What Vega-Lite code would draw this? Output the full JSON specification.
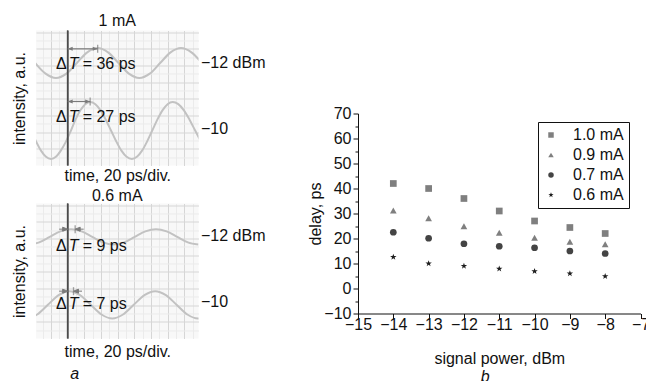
{
  "$schema": "https://vega.github.io/schema/vega-lite/v6.json",
  "padding": {"left": 11, "top": 12.5, "right": 0, "bottom": 0},
  "background": "white",
  "config": {
    "font": "Liberation Sans",
    "view": {"stroke": null},
    "axis": {"labelFontSize": 16, "titleFontSize": 16, "titleFontWeight": "normal", "labelColor": "#111", "titleColor": "#111", "labelFlush": false, "labelOverlap": false},
    "title": {"fontSize": 16, "fontWeight": "normal", "color": "#111"},
    "text": {"font": "Liberation Sans"}
  },
  "datasets": {
    "traceA": [
      {"power": "-12", "t": -39, "v": 6.15}, {"power": "-12", "t": -26.5, "v": 5.51}, {"power": "-12", "t": -14, "v": 5.25}, {"power": "-12", "t": -1.5, "v": 5.51}, {"power": "-12", "t": 11, "v": 6.15}, {"power": "-12", "t": 23.5, "v": 6.79}, {"power": "-12", "t": 36, "v": 7.05}, {"power": "-12", "t": 48.5, "v": 6.79}, {"power": "-12", "t": 61, "v": 6.15}, {"power": "-12", "t": 73.5, "v": 5.51}, {"power": "-12", "t": 86, "v": 5.25}, {"power": "-12", "t": 98.5, "v": 5.51}, {"power": "-12", "t": 111, "v": 6.15}, {"power": "-12", "t": 123.5, "v": 6.79}, {"power": "-12", "t": 136, "v": 7.05}, {"power": "-12", "t": 148.5, "v": 6.79}, {"power": "-12", "t": 161, "v": 6.15},
      {"power": "-10", "t": -44, "v": 2.1}, {"power": "-10", "t": -38, "v": 1.45}, {"power": "-10", "t": -32, "v": 0.89}, {"power": "-10", "t": -26, "v": 0.52}, {"power": "-10", "t": -20, "v": 0.39}, {"power": "-10", "t": -14.1, "v": 0.52}, {"power": "-10", "t": -8.25, "v": 0.89}, {"power": "-10", "t": -2.4, "v": 1.4}, {"power": "-10", "t": 3.5, "v": 2.05}, {"power": "-10", "t": 9.4, "v": 2.75}, {"power": "-10", "t": 15.25, "v": 3.31}, {"power": "-10", "t": 21.1, "v": 3.68}, {"power": "-10", "t": 27, "v": 3.81}, {"power": "-10", "t": 33.25, "v": 3.68}, {"power": "-10", "t": 39.5, "v": 3.31}, {"power": "-10", "t": 45.75, "v": 2.75}, {"power": "-10", "t": 52, "v": 2.1}, {"power": "-10", "t": 58.25, "v": 1.45}, {"power": "-10", "t": 64.5, "v": 0.89}, {"power": "-10", "t": 70.75, "v": 0.52}, {"power": "-10", "t": 77, "v": 0.39}, {"power": "-10", "t": 83.1, "v": 0.52}, {"power": "-10", "t": 89.25, "v": 0.89}, {"power": "-10", "t": 95.4, "v": 1.45}, {"power": "-10", "t": 101.5, "v": 2.1}, {"power": "-10", "t": 107.6, "v": 2.75}, {"power": "-10", "t": 113.75, "v": 3.31}, {"power": "-10", "t": 119.9, "v": 3.68}, {"power": "-10", "t": 126, "v": 3.81}, {"power": "-10", "t": 132.75, "v": 3.68}, {"power": "-10", "t": 139.5, "v": 3.31}, {"power": "-10", "t": 146.25, "v": 2.75}, {"power": "-10", "t": 153, "v": 2.1}, {"power": "-10", "t": 159.75, "v": 1.45}
    ],
    "traceB": [
      {"power": "-12", "t": -47, "v": 5.64}, {"power": "-12", "t": -34.25, "v": 5.77}, {"power": "-12", "t": -21.5, "v": 6.1}, {"power": "-12", "t": -8.75, "v": 6.43}, {"power": "-12", "t": 4, "v": 6.56}, {"power": "-12", "t": 16.75, "v": 6.43}, {"power": "-12", "t": 29.5, "v": 6.1}, {"power": "-12", "t": 42.25, "v": 5.77}, {"power": "-12", "t": 55, "v": 5.64}, {"power": "-12", "t": 67.75, "v": 5.77}, {"power": "-12", "t": 80.5, "v": 6.1}, {"power": "-12", "t": 93.25, "v": 6.43}, {"power": "-12", "t": 106, "v": 6.56}, {"power": "-12", "t": 118.75, "v": 6.43}, {"power": "-12", "t": 131.5, "v": 6.1}, {"power": "-12", "t": 144.25, "v": 5.77}, {"power": "-12", "t": 157, "v": 5.64},
      {"power": "-10", "t": -49.5, "v": 1.2}, {"power": "-10", "t": -36.6, "v": 1.44}, {"power": "-10", "t": -23.75, "v": 2.02}, {"power": "-10", "t": -10.9, "v": 2.6}, {"power": "-10", "t": 2, "v": 2.84}, {"power": "-10", "t": 14.9, "v": 2.6}, {"power": "-10", "t": 27.75, "v": 2.02}, {"power": "-10", "t": 40.6, "v": 1.44}, {"power": "-10", "t": 53.5, "v": 1.2}, {"power": "-10", "t": 66.4, "v": 1.44}, {"power": "-10", "t": 79.25, "v": 2.02}, {"power": "-10", "t": 92.1, "v": 2.6}, {"power": "-10", "t": 105, "v": 2.84}, {"power": "-10", "t": 117.9, "v": 2.6}, {"power": "-10", "t": 130.75, "v": 2.02}, {"power": "-10", "t": 143.6, "v": 1.44}, {"power": "-10", "t": 156.5, "v": 1.2}, {"power": "-10", "t": 169.4, "v": 1.44}
    ],
    "annA": [
      {"power": "-12", "ay": 7.0, "dt": 36, "ly": 6.12, "rest": "= 36 ps"},
      {"power": "-10", "ay": 3.84, "dt": 27, "ly": 2.9, "rest": "= 27 ps"}
    ],
    "annB": [
      {"power": "-12", "ay": 6.56, "dt": 9, "ly": 5.54, "rest": "= 9 ps"},
      {"power": "-10", "ay": 2.84, "dt": 7, "ly": 2.1, "rest": "= 7 ps"}
    ],
    "delay": [
      {"power": -14, "delay": 42, "current": "1.0 mA"}, {"power": -13, "delay": 40, "current": "1.0 mA"}, {"power": -12, "delay": 36, "current": "1.0 mA"}, {"power": -11, "delay": 31, "current": "1.0 mA"}, {"power": -10, "delay": 27, "current": "1.0 mA"}, {"power": -9, "delay": 24.4, "current": "1.0 mA"}, {"power": -8, "delay": 22, "current": "1.0 mA"},
      {"power": -14, "delay": 31.2, "current": "0.9 mA"}, {"power": -13, "delay": 28.1, "current": "0.9 mA"}, {"power": -12, "delay": 24.9, "current": "0.9 mA"}, {"power": -11, "delay": 22.3, "current": "0.9 mA"}, {"power": -10, "delay": 20.3, "current": "0.9 mA"}, {"power": -9, "delay": 18.7, "current": "0.9 mA"}, {"power": -8, "delay": 17.7, "current": "0.9 mA"},
      {"power": -14, "delay": 22.5, "current": "0.7 mA"}, {"power": -13, "delay": 20.1, "current": "0.7 mA"}, {"power": -12, "delay": 17.9, "current": "0.7 mA"}, {"power": -11, "delay": 16.9, "current": "0.7 mA"}, {"power": -10, "delay": 16.3, "current": "0.7 mA"}, {"power": -9, "delay": 15, "current": "0.7 mA"}, {"power": -8, "delay": 14, "current": "0.7 mA"},
      {"power": -14, "delay": 12.6, "current": "0.6 mA"}, {"power": -13, "delay": 10, "current": "0.6 mA"}, {"power": -12, "delay": 9, "current": "0.6 mA"}, {"power": -11, "delay": 7.9, "current": "0.6 mA"}, {"power": -10, "delay": 6.9, "current": "0.6 mA"}, {"power": -9, "delay": 6, "current": "0.6 mA"}, {"power": -8, "delay": 4.9, "current": "0.6 mA"}
    ]
  },
  "resolve": {"scale": {"color": "independent", "shape": "independent"}},
  "spacing": 42,
  "hconcat": [
    {
      "spacing": 4,
      "vconcat": [
        {
          "width": 162.5, "height": 135,
          "view": {"fill": "#f8f8f8"},
          "title": {"text": "1 mA", "offset": 0.5},
          "resolve": {"axis": {"x": "independent", "y": "independent"}},
          "layer": [
            {
              "data": {"name": "traceA"},
              "mark": {"type": "line", "interpolate": "monotone", "clip": true, "color": "#c2c2c2", "strokeWidth": 2},
              "encoding": {
                "x": {"field": "t", "type": "quantitative", "scale": {"domain": [-38, 157], "nice": false, "zero": false},
                  "axis": {"title": "time, 20 ps/div.", "titlePadding": 2, "labels": false, "ticks": false, "domain": false, "grid": true,
                    "values": [-30, -20, -10, 0, 10, 20, 30, 40, 50, 60, 70, 80, 90, 100, 110, 120, 130, 140, 150],
                    "gridColor": {"condition": {"test": "datum.value % 20 !== 0", "value": "#ebebeb"}, "value": "#d6d6d6"}, "gridWidth": 1}},
                "y": {"field": "v", "type": "quantitative", "scale": {"domain": [0, 8.1], "nice": false, "zero": false},
                  "axis": {"title": "intensity, a.u.", "titlePadding": 9, "labels": false, "ticks": false, "domain": false, "grid": true,
                    "values": [0.5, 1, 1.5, 2, 2.5, 3, 3.5, 4, 4.5, 5, 5.5, 6, 6.5, 7, 7.5, 8],
                    "gridColor": {"condition": {"test": "datum.value % 1 !== 0", "value": "#ebebeb"}, "value": "#d6d6d6"}, "gridWidth": 1}},
                "detail": {"field": "power", "type": "nominal"}
              }
            },
            {"data": {"name": "annA"}, "mark": {"type": "rule", "color": "#4a4a4a", "strokeWidth": 1.5},
             "encoding": {"x": {"datum": 0, "type": "quantitative", "axis": null}}},
            {"data": {"name": "annA"}, "mark": {"type": "rule", "color": "#7a7a7a", "strokeWidth": 1.2},
             "encoding": {"x": {"field": "dt", "type": "quantitative", "axis": null}, "x2": {"datum": 0}, "y": {"field": "ay", "type": "quantitative", "axis": null}}},
            {"data": {"name": "annA"}, "mark": {"type": "point", "shape": "M0,0L2,-0.8L2,0.8Z", "filled": true, "size": 25, "color": "#7a7a7a", "opacity": 1},
             "encoding": {"x": {"datum": 0, "type": "quantitative", "axis": null}, "y": {"field": "ay", "type": "quantitative", "axis": null}}},
            {"data": {"name": "annA"}, "mark": {"type": "point", "shape": "M0,0L-2,-0.8L-2,0.8Z", "filled": true, "size": 25, "color": "#7a7a7a", "opacity": 1},
             "encoding": {"x": {"field": "dt", "type": "quantitative", "axis": null}, "y": {"field": "ay", "type": "quantitative", "axis": null}}},
            {"data": {"name": "annA"}, "mark": {"type": "tick", "orient": "vertical", "size": 8, "thickness": 1.3, "color": "#7a7a7a"},
             "encoding": {"x": {"field": "dt", "type": "quantitative", "axis": null}, "y": {"field": "ay", "type": "quantitative", "axis": null}}},
            {"data": {"name": "annA"}, "mark": {"type": "text", "text": "Δ", "align": "right", "baseline": "middle", "dx": -1, "fontSize": 16, "color": "#111"},
             "encoding": {"x": {"datum": 0, "type": "quantitative", "axis": null}, "y": {"field": "ly", "type": "quantitative", "axis": null}}},
            {"data": {"name": "annA"}, "mark": {"type": "text", "text": "T", "align": "left", "baseline": "middle", "dx": 1, "fontSize": 16, "fontStyle": "italic", "color": "#111"},
             "encoding": {"x": {"datum": 0, "type": "quantitative", "axis": null}, "y": {"field": "ly", "type": "quantitative", "axis": null}}},
            {"data": {"name": "annA"}, "mark": {"type": "text", "align": "left", "baseline": "middle", "dx": 15, "fontSize": 16, "color": "#111"},
             "encoding": {"x": {"datum": 0, "type": "quantitative", "axis": null}, "text": {"field": "rest", "type": "nominal"},
               "y": {"field": "ly", "type": "quantitative", "axis": {"orient": "right", "values": [6.16, 2.2], "labelExpr": "datum.value > 4 ? '−12 dBm' : '−10'", "ticks": false, "tickSize": 0, "domain": false, "grid": false, "labelPadding": 2, "title": null}}}}
          ]
        },
        {
          "width": 162.5, "height": 135,
          "view": {"fill": "#f8f8f8"},
          "title": {"text": "0.6 mA", "offset": -1},
          "resolve": {"axis": {"x": "independent", "y": "independent"}},
          "layer": [
            {
              "data": {"name": "traceB"},
              "mark": {"type": "line", "interpolate": "monotone", "clip": true, "color": "#c2c2c2", "strokeWidth": 2},
              "encoding": {
                "x": {"field": "t", "type": "quantitative", "scale": {"domain": [-38, 157], "nice": false, "zero": false},
                  "axis": {"title": "time, 20 ps/div.", "titlePadding": 5, "labels": false, "ticks": false, "domain": false, "grid": true,
                    "values": [-30, -20, -10, 0, 10, 20, 30, 40, 50, 60, 70, 80, 90, 100, 110, 120, 130, 140, 150],
                    "gridColor": {"condition": {"test": "datum.value % 20 !== 0", "value": "#ebebeb"}, "value": "#d6d6d6"}, "gridWidth": 1}},
                "y": {"field": "v", "type": "quantitative", "scale": {"domain": [0, 8.1], "nice": false, "zero": false},
                  "axis": {"title": "intensity, a.u.", "titlePadding": 9, "labels": false, "ticks": false, "domain": false, "grid": true,
                    "values": [0.5, 1, 1.5, 2, 2.5, 3, 3.5, 4, 4.5, 5, 5.5, 6, 6.5, 7, 7.5, 8],
                    "gridColor": {"condition": {"test": "datum.value % 1 !== 0", "value": "#ebebeb"}, "value": "#d6d6d6"}, "gridWidth": 1}},
                "detail": {"field": "power", "type": "nominal"}
              }
            },
            {"data": {"name": "annB"}, "mark": {"type": "rule", "color": "#4a4a4a", "strokeWidth": 1.5},
             "encoding": {"x": {"datum": 0, "type": "quantitative",
               "axis": {"orient": "bottom", "title": "a", "titleFontStyle": "italic", "titlePadding": 27, "titleX": 38.3, "labels": false, "ticks": false, "tickSize": 0, "domain": false, "grid": false}}}},
            {"data": {"name": "annB"}, "mark": {"type": "point", "shape": "M0,0L-2,-0.8L-2,0.8ZM-2,0L-3.4,0", "filled": true, "size": 25, "color": "#7a7a7a", "stroke": "#7a7a7a", "strokeWidth": 1, "opacity": 1},
             "encoding": {"x": {"datum": 0, "type": "quantitative", "axis": null}, "y": {"field": "ay", "type": "quantitative", "axis": null}}},
            {"data": {"name": "annB"}, "mark": {"type": "point", "shape": "M0,0L2,-0.8L2,0.8ZM2,0L3.4,0", "filled": true, "size": 25, "color": "#7a7a7a", "stroke": "#7a7a7a", "strokeWidth": 1, "opacity": 1},
             "encoding": {"x": {"field": "dt", "type": "quantitative", "axis": null}, "y": {"field": "ay", "type": "quantitative", "axis": null}}},
            {"data": {"name": "annB"}, "mark": {"type": "tick", "orient": "vertical", "size": 8, "thickness": 1.3, "color": "#7a7a7a"},
             "encoding": {"x": {"field": "dt", "type": "quantitative", "axis": null}, "y": {"field": "ay", "type": "quantitative", "axis": null}}},
            {"data": {"name": "annB"}, "mark": {"type": "text", "text": "Δ", "align": "right", "baseline": "middle", "dx": -1, "fontSize": 16, "color": "#111"},
             "encoding": {"x": {"datum": 0, "type": "quantitative", "axis": null}, "y": {"field": "ly", "type": "quantitative", "axis": null}}},
            {"data": {"name": "annB"}, "mark": {"type": "text", "text": "T", "align": "left", "baseline": "middle", "dx": 1, "fontSize": 16, "fontStyle": "italic", "color": "#111"},
             "encoding": {"x": {"datum": 0, "type": "quantitative", "axis": null}, "y": {"field": "ly", "type": "quantitative", "axis": null}}},
            {"data": {"name": "annB"}, "mark": {"type": "text", "align": "left", "baseline": "middle", "dx": 15, "fontSize": 16, "color": "#111"},
             "encoding": {"x": {"datum": 0, "type": "quantitative", "axis": null}, "text": {"field": "rest", "type": "nominal"},
               "y": {"field": "ly", "type": "quantitative", "axis": {"orient": "right", "values": [6.16, 2.2], "labelExpr": "datum.value > 4 ? '−12 dBm' : '−10'", "ticks": false, "tickSize": 0, "domain": false, "grid": false, "labelPadding": 2, "title": null}}}}
          ]
        }
      ]
    },
    {
      "spacing": 0,
      "resolve": {"scale": {"color": "independent", "shape": "independent"}},
      "vconcat": [
        {"width": 282.5, "height": 75, "data": {"values": []}, "mark": "point"},
        {
          "width": 282.5, "height": 200,
          "title": {"text": "b", "orient": "bottom", "fontStyle": "italic", "dx": -14, "offset": 2},
          "data": {"name": "delay"},
          "mark": {"type": "point", "filled": true, "opacity": 1, "size": 45},
          "encoding": {
            "x": {"field": "power", "type": "quantitative", "scale": {"domain": [-15, -7], "nice": false, "zero": false},
              "axis": {"title": "signal power, dBm", "titlePadding": 18, "grid": false, "domainColor": "#111", "tickColor": "#111", "format": "d",
                "values": [-15, -14.5, -14, -13.5, -13, -12.5, -12, -11.5, -11, -10.5, -10, -9.5, -9, -8.5, -8, -7.5, -7],
                "labelExpr": "datum.value % 1 === 0 ? datum.label : ''",
                "tickSize": {"condition": {"test": "datum.value % 1 !== 0", "value": 3}, "value": 5}, "labelPadding": -2}},
            "y": {"field": "delay", "type": "quantitative", "scale": {"domain": [-10, 70], "nice": false, "zero": false},
              "axis": {"title": "delay, ps", "titlePadding": 0, "grid": false, "domainColor": "#111", "tickColor": "#111", "format": "d",
                "values": [-10, -5, 0, 5, 10, 15, 20, 25, 30, 35, 40, 45, 50, 55, 60, 65, 70],
                "labelExpr": "datum.value % 10 === 0 ? datum.label : ''",
                "tickSize": {"condition": {"test": "datum.value % 10 !== 0", "value": 3}, "value": 5}, "labelPadding": 2}},
            "shape": {"field": "current", "type": "nominal",
              "scale": {"domain": ["1.0 mA", "0.9 mA", "0.7 mA", "0.6 mA"], "range": ["square", "triangle-up", "circle", "M0,-1L0.235,-0.324L0.951,-0.309L0.38,0.124L0.588,0.809L0,0.4L-0.588,0.809L-0.38,0.124L-0.951,-0.309L-0.235,-0.324Z"]},
              "legend": {"title": null, "orient": "none", "legendX": 180, "legendY": 8.5, "strokeColor": "#111", "padding": 5, "labelFontSize": 16, "labelColor": "#111", "symbolSize": 30, "labelOffset": 14, "rowPadding": 4, "symbolStrokeWidth": 0}},
            "color": {"field": "current", "type": "nominal",
              "scale": {"domain": ["1.0 mA", "0.9 mA", "0.7 mA", "0.6 mA"], "range": ["#7f7f7f", "#7f7f7f", "#444444", "#1e1e1e"]},
              "legend": {"title": null, "orient": "none", "legendX": 180, "legendY": 8.5, "strokeColor": "#111", "padding": 5, "labelFontSize": 16, "labelColor": "#111", "symbolSize": 30, "labelOffset": 14, "rowPadding": 4, "symbolStrokeWidth": 0}}
          }
        }
      ]
    }
  ]
}
